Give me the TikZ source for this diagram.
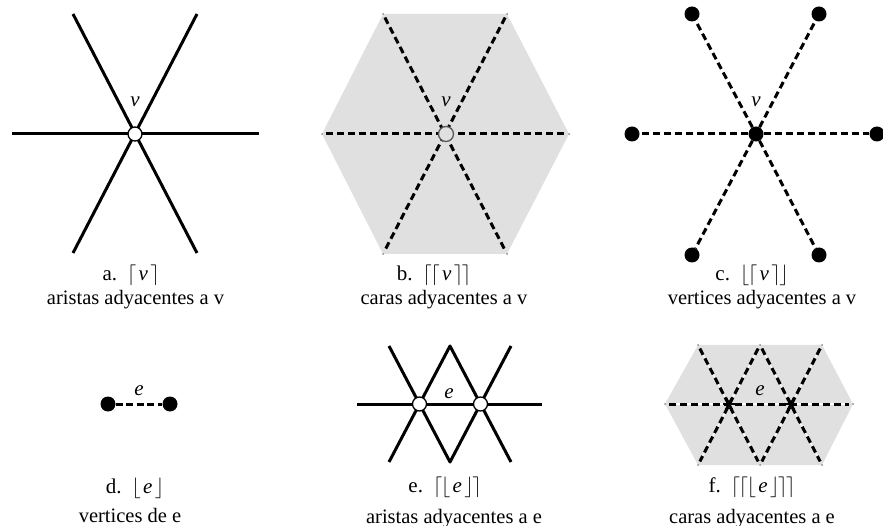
\documentclass[tikz,border=0pt]{standalone}
\usepackage{fontspec}
\setmainfont{Liberation Serif}
\usetikzlibrary{calc}
\definecolor{facegray}{RGB}{224,224,224}
\newcommand\lc{\lceil\mkern-1mu}
\newcommand\rc{\mkern-1mu\rceil}
\newcommand\lf{\lfloor\mkern-1mu}
\newcommand\rf{\mkern-1mu\rfloor}
\newcommand\iv{\,\textit{v}\,}
\newcommand\ie{\,\textit{e}\,}
\begin{document}
\begin{tikzpicture}[x=1pt,y=-1pt,
  edge/.style={line width=3pt,black},
  dashedge/.style={line width=3pt,black,dash pattern=on 7pt off 4pt},
  hollow/.style={circle,draw,line width=1.3pt,fill=white,minimum size=14pt,inner sep=0pt},
  hollowgray/.style={circle,draw=black!65,line width=1.3pt,fill=facegray,minimum size=15pt,inner sep=0pt},
  dot/.style={circle,fill=black,minimum size=15pt,inner sep=0pt},
  corner/.style={circle,fill=black!45,minimum size=2pt,inner sep=0pt},
  lbl/.style={anchor=base,font=\fontsize{21}{25}\selectfont,inner sep=0pt},
  captxt/.style={anchor=base,font=\fontsize{20.5}{24}\selectfont,inner sep=0pt},
  nm/.style={anchor=base,font=\fontsize{21}{25}\selectfont\itshape,inner sep=0pt},
]
\useasboundingbox (0,0) rectangle (883,526);

% ---------- panel a ----------
\coordinate (a1) at (73,14);  \coordinate (a2) at (197,14);
\coordinate (a3) at (12,134); \coordinate (a4) at (259,134);
\coordinate (a5) at (73,253); \coordinate (a6) at (197,253);
\draw[edge] (a1) -- (a6);
\draw[edge] (a2) -- (a5);
\draw[edge] (a3) -- (a4);
\node[hollow] (A) at (135,134) {};
\node[nm] (Av) at (135,107) {v};
\node[lbl] (Al) at (131,281) {a.\hspace{10pt}$\lc\iv\rc$};
\node[captxt] (Ac) at (135.5,305) {aristas adyacentes a v};

% ---------- panel b ----------
\coordinate (b1) at (383,14);  \coordinate (b2) at (507,14);
\coordinate (b3) at (569,134); \coordinate (b4) at (507,254);
\coordinate (b5) at (383,254); \coordinate (b6) at (322,134);
\fill[facegray] (b1) -- (b2) -- (b3) -- (b4) -- (b5) -- (b6) -- cycle;
\foreach \c in {b1,b2,b3,b4,b5,b6} \node[corner] at (\c) {};
\draw[dashedge,shorten <=4pt,shorten >=4pt] (b1) -- (b4);
\draw[dashedge,shorten <=4pt,shorten >=4pt] (b2) -- (b5);
\draw[dashedge,shorten <=4pt,shorten >=4pt] (b6) -- (b3);
\node[hollowgray] (B) at (446,134) {};
\node[nm] (Bv) at (446,107) {v};
\node[lbl] (Bl) at (434,281) {b.\hspace{10pt}$\lc\lc\iv\rc\rc$};
\node[captxt] (Bc) at (444,305) {caras adyacentes a v};

% ---------- panel c ----------
\node[dot] (C) at (756,134) {};
\node[dot] (c1) at (692,14) {};
\node[dot] (c2) at (819,14) {};
\node[dot] (c3) at (632,134) {};
\node[dot] (c4) at (877,134) {};
\node[dot] (c5) at (819,255) {};
\node[dot] (c6) at (692,255) {};
\foreach \c in {c1,c2,c3,c4,c5,c6} \draw[dashedge] (C) -- (\c);
\node[nm] (Cv) at (756,107) {v};
\node[lbl] (Cl) at (752,281) {c.\hspace{10pt}$\lf\lc\iv\rc\rf$};
\node[captxt] (Cc) at (762,305) {vertices adyacentes a v};

% ---------- panel d ----------
\node[dot] (d1) at (108,404) {};
\node[dot] (d2) at (170,404) {};
\draw[dashedge,dash pattern=on 7pt off 3.5pt] (d1) -- (d2);
\node[nm] (Dv) at (139,395) {e};
\node[lbl] (Dl) at (135,493) {d.\hspace{10pt}$\lf\ie\rf$};
\node[captxt] (Dc) at (130,522) {vertices de e};

% ---------- panel e ----------
\coordinate (el) at (357,404); \coordinate (er) at (542,404);
\coordinate (t1) at (389,346); \coordinate (t2) at (450,346); \coordinate (t3) at (511,346);
\coordinate (u1) at (389,462); \coordinate (u2) at (450,462); \coordinate (u3) at (511,462);
\draw[edge] (el) -- (er);
\draw[edge,line join=round] (t1) -- (u2) -- (t3);
\draw[edge,line join=round] (u1) -- (t2) -- (u3);
\node[hollow] (E1) at (419.5,404) {};
\node[hollow] (E2) at (480.5,404) {};
\node[nm] (Ev) at (449,398) {e};
\node[lbl] (El) at (445,492) {e.\hspace{10pt}$\lc\lf\ie\rf\rc$};
\node[captxt] (Ec) at (454,523) {aristas adyacentes a e};

% ---------- panel f ----------
\coordinate (f1) at (698,345); \coordinate (fm) at (760,345); \coordinate (f2) at (822,345);
\coordinate (f3) at (853,404);
\coordinate (f4) at (822,465); \coordinate (fn) at (760,465); \coordinate (f5) at (698,465);
\coordinate (f6) at (665,404);
\coordinate (F1) at (729,404); \coordinate (F2) at (791,404);
\fill[facegray] (f1) -- (f2) -- (f3) -- (f4) -- (f5) -- (f6) -- cycle;
\foreach \c in {f1,f2,f3,f4,f5,f6,fm,fn} \node[corner] at (\c) {};
\foreach \p/\q in {f6/f3,f1/fn,fm/f5,fm/f4,f2/fn}{
  \draw[white,line width=1.2pt,shorten <=4pt,shorten >=4pt] (\p) -- (\q);
  \draw[dashedge,shorten <=4pt,shorten >=4pt] (\p) -- (\q);
}
\foreach \v in {F1,F2}{
  \draw[line width=2.6pt] ($(\v)+(-6,0)$) -- ($(\v)+(6,0)$);
  \draw[line width=2.6pt] ($(\v)+(-3,-6)$) -- ($(\v)+(3,6)$);
  \draw[line width=2.6pt] ($(\v)+(3,-6)$) -- ($(\v)+(-3,6)$);
}
\node[nm] (Fv) at (760,395) {e};
\node[lbl] (Fl) at (752,492) {f.\hspace{10pt}$\lc\lc\lf\ie\rf\rc\rc$};
\node[captxt] (Fc) at (752,523) {caras adyacentes a e};
\end{tikzpicture}
\end{document}
